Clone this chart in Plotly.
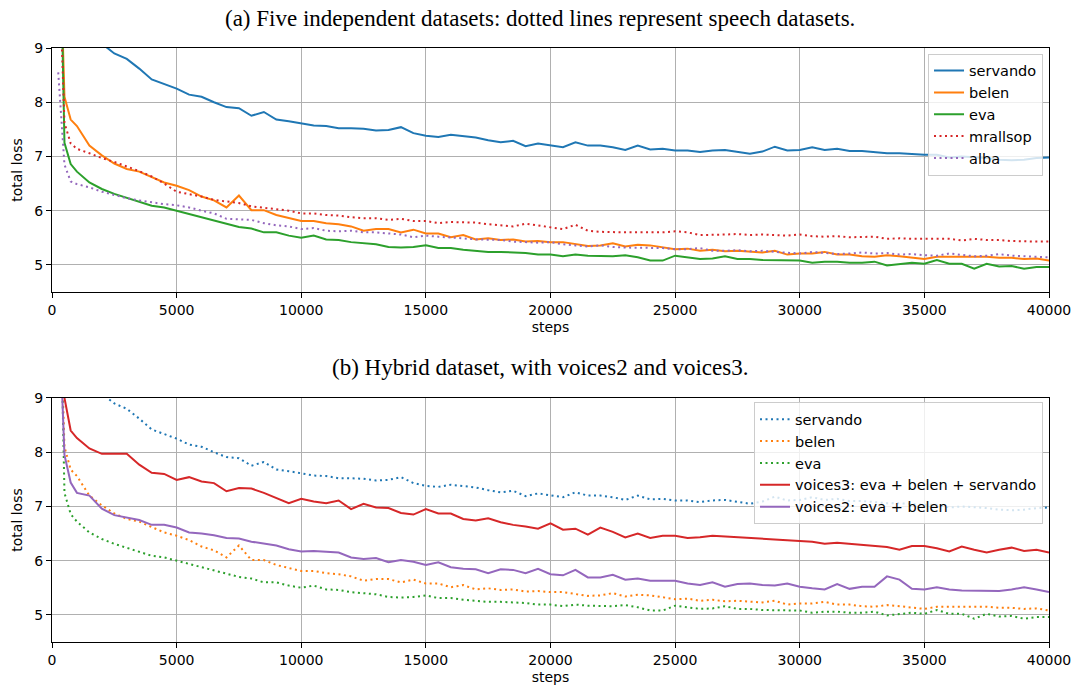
import plotly.graph_objects as go

steps = [250, 500, 750] + list(range(1000, 40001, 500))

servando = [14.0, 12.6, 11.6, 10.9, 10.1, 9.08, 8.90, 8.80, 8.62, 8.42, 8.33, 8.25, 8.14, 8.10, 8.00, 7.91, 7.89, 7.75, 7.82, 7.68, 7.65, 7.61,
            7.57, 7.56, 7.52, 7.52, 7.51, 7.48, 7.49, 7.54, 7.43, 7.38, 7.36, 7.40, 7.37, 7.35, 7.30, 7.26, 7.29, 7.19, 7.24, 7.21,
            7.17, 7.26, 7.20, 7.20, 7.17, 7.12, 7.20, 7.13, 7.14, 7.11, 7.11, 7.08, 7.11, 7.12, 7.09, 7.05, 7.09, 7.18, 7.11, 7.12,
            7.17, 7.12, 7.14, 7.10, 7.10, 7.08, 7.06, 7.06, 7.04, 7.03, 7.03, 6.98, 7.00, 6.99, 6.97, 6.94, 6.93, 6.94, 6.97, 6.98]

belen = [12.0, 8.10, 7.68, 7.56, 7.20, 7.02, 6.87, 6.77, 6.72, 6.62, 6.52, 6.46, 6.38, 6.26, 6.19, 6.06, 6.28, 6.01, 6.01, 5.92, 5.87, 5.81,
         5.81, 5.77, 5.75, 5.71, 5.63, 5.66, 5.66, 5.60, 5.65, 5.58, 5.58, 5.51, 5.55, 5.47, 5.49, 5.46, 5.47, 5.43, 5.44, 5.42,
         5.42, 5.39, 5.35, 5.36, 5.40, 5.34, 5.37, 5.36, 5.33, 5.29, 5.30, 5.26, 5.28, 5.25, 5.26, 5.25, 5.23, 5.26, 5.19, 5.21,
         5.21, 5.24, 5.19, 5.19, 5.16, 5.15, 5.18, 5.16, 5.14, 5.11, 5.15, 5.15, 5.15, 5.14, 5.15, 5.13, 5.13, 5.11, 5.12, 5.08]

eva = [13.0, 7.25, 6.86, 6.72, 6.52, 6.40, 6.31, 6.24, 6.16, 6.09, 6.06, 6.00, 5.94, 5.89, 5.83, 5.77, 5.70, 5.67, 5.60, 5.60, 5.54, 5.50,
       5.54, 5.47, 5.46, 5.42, 5.40, 5.38, 5.33, 5.32, 5.33, 5.36, 5.31, 5.31, 5.28, 5.26, 5.24, 5.24, 5.23, 5.22, 5.19, 5.19,
       5.16, 5.19, 5.17, 5.16, 5.16, 5.18, 5.14, 5.08, 5.08, 5.17, 5.14, 5.11, 5.12, 5.16, 5.11, 5.11, 5.09, 5.09, 5.09, 5.08,
       5.04, 5.06, 5.06, 5.04, 5.04, 5.06, 4.99, 5.01, 5.04, 5.02, 5.09, 5.02, 5.02, 4.93, 5.02, 4.97, 4.98, 4.93, 4.96, 4.96]

mrallsop = [11.0, 7.62, 7.24, 7.14, 7.06, 6.97, 6.90, 6.82, 6.73, 6.63, 6.50, 6.35, 6.31, 6.26, 6.20, 6.17, 6.14, 6.08, 6.05, 6.03, 6.00, 5.95,
            5.95, 5.92, 5.91, 5.88, 5.86, 5.86, 5.83, 5.85, 5.81, 5.81, 5.77, 5.79, 5.79, 5.78, 5.75, 5.73, 5.71, 5.76, 5.73, 5.70,
            5.66, 5.74, 5.63, 5.61, 5.60, 5.60, 5.60, 5.60, 5.60, 5.62, 5.60, 5.55, 5.55, 5.56, 5.57, 5.55, 5.56, 5.55, 5.54, 5.56,
            5.53, 5.52, 5.53, 5.51, 5.52, 5.52, 5.48, 5.49, 5.48, 5.48, 5.47, 5.48, 5.45, 5.48, 5.46, 5.46, 5.44, 5.43, 5.43, 5.43]

alba = [8.55, 6.85, 6.54, 6.49, 6.43, 6.35, 6.29, 6.23, 6.19, 6.15, 6.12, 6.10, 6.06, 6.00, 5.95, 5.85, 5.84, 5.83, 5.77, 5.73, 5.71, 5.66,
        5.68, 5.63, 5.62, 5.63, 5.60, 5.60, 5.58, 5.56, 5.51, 5.54, 5.52, 5.51, 5.49, 5.47, 5.46, 5.46, 5.43, 5.42, 5.41, 5.42,
        5.38, 5.36, 5.34, 5.36, 5.33, 5.32, 5.32, 5.31, 5.31, 5.29, 5.29, 5.31, 5.26, 5.26, 5.27, 5.25, 5.26, 5.24, 5.22, 5.21,
        5.24, 5.22, 5.20, 5.21, 5.23, 5.21, 5.22, 5.19, 5.20, 5.18, 5.17, 5.21, 5.18, 5.16, 5.17, 5.20, 5.17, 5.16, 5.15, 5.14]

voices3 = [14.0, 9.0, 8.40, 8.26, 8.07, 7.97, 7.97, 7.97, 7.77, 7.62, 7.60, 7.49, 7.54, 7.46, 7.43, 7.28, 7.34, 7.33, 7.25, 7.15, 7.06, 7.14,
           7.09, 7.06, 7.11, 6.95, 7.05, 6.98, 6.97, 6.88, 6.85, 6.95, 6.87, 6.87, 6.77, 6.74, 6.78, 6.71, 6.66, 6.63, 6.59, 6.69,
           6.57, 6.59, 6.48, 6.61, 6.53, 6.43, 6.50, 6.42, 6.46, 6.46, 6.42, 6.43, 6.46, None, None, None, None, None, None, None,
           6.35, 6.31, 6.33, 6.31, 6.29, 6.26, 6.25, 6.20, 6.27, 6.27, 6.23, 6.17, 6.26, 6.20, 6.15, 6.20, 6.24, 6.18, 6.20, 6.15]

voices2 = [11.0, 7.95, 7.44, 7.25, 7.20, 6.96, 6.84, 6.80, 6.75, 6.66, 6.66, 6.61, 6.52, 6.50, 6.47, 6.42, 6.41, 6.35, 6.32, 6.28, 6.21, 6.17,
           6.18, 6.17, 6.15, 6.06, 6.03, 6.05, 5.97, 6.01, 5.98, 5.92, 5.97, 5.88, 5.85, 5.84, 5.77, 5.84, 5.83, 5.77, 5.85, 5.75,
           5.73, 5.83, 5.69, 5.69, 5.74, 5.65, 5.67, 5.63, 5.63, 5.63, 5.58, 5.55, 5.60, 5.52, 5.57, 5.58, 5.55, 5.54, 5.58, 5.52,
           5.49, 5.47, 5.57, 5.48, 5.52, 5.52, 5.71, 5.65, 5.48, 5.47, 5.51, 5.47, 5.45, 5.45, 5.45, 5.44, 5.47, 5.51, 5.47, 5.42]

title_a = "(a) Five independent datasets: dotted lines represent speech datasets."
title_b = "(b) Hybrid dataset, with voices2 and voices3."

C = {"blue": "#1f77b4", "orange": "#ff7f0e", "green": "#2ca02c", "red": "#d62728", "purple": "#9467bd"}
DOT = "2px,3.5px"
SANS = "DejaVu Sans"

fig = go.Figure()

def add(name, y, color, dotted, xa, ya, leg):
    fig.add_trace(go.Scatter(
        x=steps, y=y, name=name, mode="lines",
        line=dict(color=color, width=2, dash=DOT if dotted else "solid"),
        xaxis=xa, yaxis=ya, legend=leg, connectgaps=True))

add("servando", servando, C["blue"], False, "x", "y", "legend")
add("belen", belen, C["orange"], False, "x", "y", "legend")
add("eva", eva, C["green"], False, "x", "y", "legend")
add("mrallsop", mrallsop, C["red"], True, "x", "y", "legend")
add("alba", alba, C["purple"], True, "x", "y", "legend")

add("servando", servando, C["blue"], True, "x2", "y2", "legend2")
add("belen", belen, C["orange"], True, "x2", "y2", "legend2")
add("eva", eva, C["green"], True, "x2", "y2", "legend2")
add("voices3: eva + belen + servando", voices3, C["red"], False, "x2", "y2", "legend2")
add("voices2: eva + belen", voices2, C["purple"], False, "x2", "y2", "legend2")

axis_common = dict(
    showgrid=True, gridcolor="#b0b0b0", gridwidth=1,
    showline=True, linecolor="black", linewidth=1, mirror=True,
    ticks="outside", ticklen=5, tickcolor="black", tickwidth=1,
    tickfont=dict(family=SANS, size=14, color="black"),
    zeroline=False, automargin=False,
)

xcommon = dict(axis_common, range=[0, 40000], tick0=0, dtick=5000, tickformat="d",
               title=dict(text="steps", font=dict(family=SANS, size=14, color="black"), standoff=5))
ycommon = dict(axis_common, range=[4.5, 9], tick0=5, dtick=1,
               title=dict(text="total loss", font=dict(family=SANS, size=14, color="black"), standoff=8))

leg_common = dict(bgcolor="rgba(255,255,255,0.8)", bordercolor="#cccccc", borderwidth=1,
                  font=dict(family=SANS, size=14.5, color="black"),
                  xanchor="right", yanchor="top", x=0.994)

fig.update_layout(
    width=1077, height=688,
    margin=dict(l=52, r=28, t=48, b=46),
    paper_bgcolor="white", plot_bgcolor="white",
    xaxis=dict(xcommon, domain=[0, 1], anchor="y"),
    yaxis=dict(ycommon, domain=[0.5892, 1], anchor="x"),
    xaxis2=dict(xcommon, domain=[0, 1], anchor="y2"),
    yaxis2=dict(ycommon, domain=[0, 0.4108], anchor="x2"),
    legend=dict(leg_common, y=0.9905),
    legend2=dict(leg_common, y=0.4035),
    annotations=[
        dict(text=title_a, xref="paper", yref="paper", x=0.4895, y=1.0505,
             xanchor="center", yanchor="middle", showarrow=False,
             font=dict(family="Liberation Serif", size=23, color="black")),
        dict(text=title_b, xref="paper", yref="paper", x=0.4895, y=0.4613,
             xanchor="center", yanchor="middle", showarrow=False,
             font=dict(family="Liberation Serif", size=23, color="black")),
    ],
)

fig.write_html("out.html", config={"displayModeBar": False},
               post_script="document.body.style.margin='0';document.body.style.overflow='hidden';")
